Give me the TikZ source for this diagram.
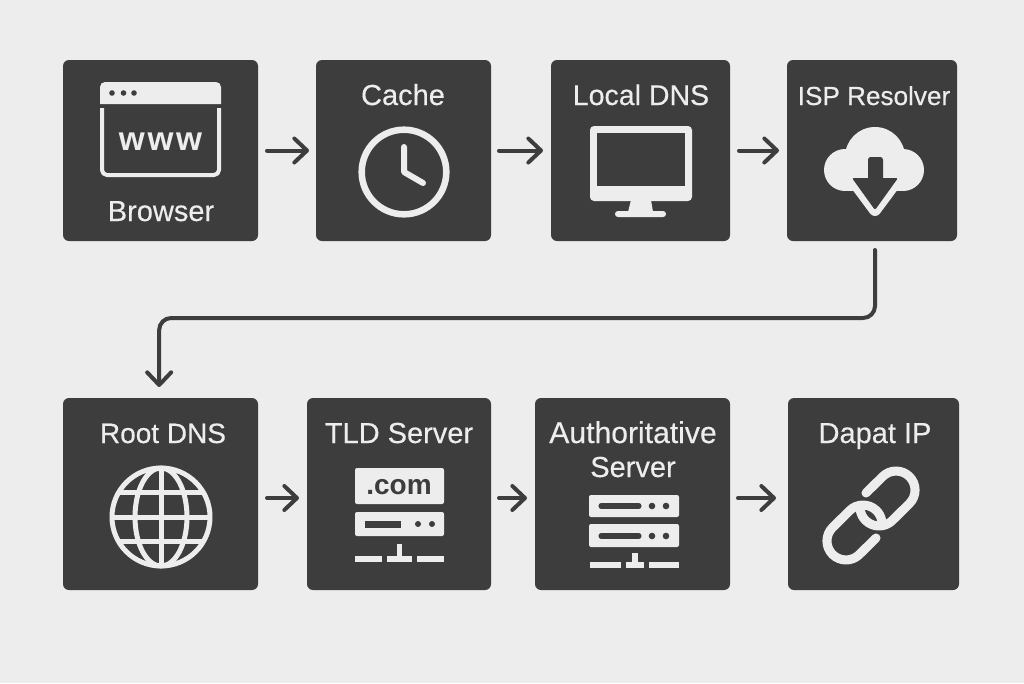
\documentclass[tikz,border=0pt]{standalone}
\usepackage{fontspec}
\setmainfont{Liberation Sans}[FakeBold=0.35]
\newfontfamily\boldface{Liberation Sans Bold}
\newfontfamily\spacedbold{Liberation Sans Bold}[LetterSpace=8]
\usetikzlibrary{arrows.meta}
\definecolor{bgc}{HTML}{EDEDED}
\definecolor{boxc}{HTML}{3D3D3D}
\definecolor{iconc}{HTML}{EDEDED}
\tikzset{
  boxnode/.style={rectangle,fill=boxc,rounded corners=4.5pt,inner sep=0pt,outer sep=0pt},
  lab/.style={anchor=base,text=iconc,inner sep=0pt,align=center,font=\fontsize{21.75}{26}\selectfont},
  flow/.style={draw=boxc,line width=3pt,line cap=round,line join=round,-{Straight Barb[length=9.5pt,width=18pt,round]}},
  icon/.style={draw=iconc,line cap=round,line join=round}
}
\begin{document}
\begin{tikzpicture}[x=0.75pt,y=-0.75pt]
\fill[bgc] (0,0) rectangle (1024,683);
\useasboundingbox (0,0) rectangle (1024,683);
% boxes
\node[boxnode,minimum width=146.25pt,minimum height=135.75pt] (browser) at (160.5,150.5) {};
\node[boxnode,minimum width=131.25pt,minimum height=135.75pt] (cache) at (403.5,150.5) {};
\node[boxnode,minimum width=134.25pt,minimum height=135.75pt] (local) at (640.5,150.5) {};
\node[boxnode,minimum width=127.5pt,minimum height=135.75pt] (isp) at (872,150.5) {};
\node[boxnode,minimum width=146.25pt,minimum height=144pt] (root) at (160.5,494) {};
\node[boxnode,minimum width=138pt,minimum height=144pt] (tld) at (399,494) {};
\node[boxnode,minimum width=146.25pt,minimum height=144pt] (auth) at (632.5,494) {};
\node[boxnode,minimum width=128.25pt,minimum height=144pt] (dapat) at (873.5,494) {};
% labels
\node[lab] (lbrowser) at (161,221) {Browser};
\node[lab] (lcache) at (403,105) {Cache};
\node[lab,font=\fontsize{21.4}{26}\selectfont] (llocal) at (641,105) {Local DNS};
\node[lab,font=\fontsize{19.6}{26}\selectfont] (lisp) at (874,105) {ISP Resolver};
\node[lab,font=\fontsize{21}{26}\selectfont] (lroot) at (163,443) {Root DNS};
\node[lab] (ltld) at (399,443) {TLD Server};
\node[lab] (ldapat) at (875,443) {Dapat IP};
\node[lab,font=\fontsize{22.6}{26}\selectfont] (lauth) at (633,443) {Authoritative};
\node[lab] (lauthb) at (633,477) {Server};
% browser icon
\fill[iconc] (100,104) -- (100,87) arc[start angle=180,end angle=270,radius=5] -- (216,82) arc[start angle=270,end angle=360,radius=5] -- (221,104) -- cycle;
\draw[icon,line width=3pt,line cap=butt] (102,108) -- (102,170) arc[start angle=180,end angle=90,radius=5] -- (214,175) arc[start angle=90,end angle=0,radius=5] -- (219,108);
\foreach \xx in {112,123.5,134} \fill[boxc] (\xx,93) circle[radius=2.8];
\node[lab,font=\fontsize{25}{30}\spacedbold] (www) at (160.5,150) {www};
% clock
\draw[icon,line width=4.9pt] (404,172) circle[radius=42.3];
\draw[icon,line width=4.5pt] (404,147) -- (404,172) -- (423,183);
% monitor
\fill[iconc,rounded corners=3pt] (590,126) rectangle (692,201);
\fill[boxc] (597,133) rectangle (685,186);
\fill[iconc] (631,200) -- (651,200) -- (653,212) -- (628,212) -- cycle;
\fill[iconc,rounded corners=2.2pt] (615,211) rectangle (666,217);
% cloud
\fill[iconc] (875,157) circle[radius=30];
\fill[iconc] (845,170) circle[radius=21];
\fill[iconc] (903,170) circle[radius=21];
\fill[iconc] (845,160) rectangle (903,191);
\draw[icon,fill=iconc,line width=9pt] (852,179) -- (898,179) -- (875,210) -- cycle;
\fill[boxc,rounded corners=1.5pt] (852,178) -- (898,178) -- (875,210) -- cycle;
\fill[boxc,rounded corners=2pt] (868,157) rectangle (883,185);
% globe
\draw[icon,line width=3.75pt] (161,517) circle[radius=49];
\draw[icon,line width=3.75pt] (161,517) ellipse[x radius=26,y radius=49];
\draw[icon,line width=3.75pt,line cap=butt] (161,468) -- (161,566);
\draw[icon,line width=3.75pt,line cap=butt] (112,517) -- (210,517);
\draw[icon,line width=3.75pt,line cap=butt] (119,492.5) -- (203,492.5);
\draw[icon,line width=3.75pt,line cap=butt] (119,541.5) -- (203,541.5);
% tld icon
\fill[iconc,rounded corners=1.5pt] (355,468) rectangle (444,504);
\node[lab,text=boxc,font=\fontsize{21}{24}\boldface] (com) at (399,494) {.com};
\fill[iconc,rounded corners=1.5pt] (355,512) rectangle (444,536);
\fill[boxc] (365,521) rectangle (401,528);
\fill[boxc] (418,524) circle[radius=3];
\fill[boxc] (432,524) circle[radius=3];
\fill[iconc] (355,556) rectangle (382,562);
\fill[iconc] (387,556) rectangle (412,562);
\fill[iconc] (417,556) rectangle (444,562);
\fill[iconc] (397,544) rectangle (402,556);
% auth icon
\fill[iconc,rounded corners=1.5pt] (589,495) rectangle (679,517);
\fill[iconc,rounded corners=1.5pt] (589,524) rectangle (679,547);
\draw[boxc,line width=3.8pt,line cap=round] (601,506) -- (639,506);
\draw[boxc,line width=3.8pt,line cap=round] (601,536) -- (639,536);
\foreach \yy in {506,536}{
  \fill[boxc] (652,\yy) circle[radius=3.3];
  \fill[boxc] (666,\yy) circle[radius=3.3];
}
\fill[iconc] (590,562) rectangle (621,568);
\fill[iconc] (626,562) rectangle (644,568);
\fill[iconc] (649,562) rectangle (679,568);
\fill[iconc] (632,553) rectangle (638,562);
% chain
\draw[icon,line width=6.8pt] (866,493) -- (882.6,476.6) arc[start angle=225,end angle=405,radius=19] -- (892.4,520.4) arc[start angle=45,end angle=170,radius=19];
\draw[icon,line width=6.8pt] (876,538) -- (859.4,554.4) arc[start angle=45,end angle=225,radius=19] -- (849.6,510.6) arc[start angle=225,end angle=350,radius=19];
% connectors
\draw[flow,shorten <=6.75pt,shorten >=5.25pt] (browser) -- (cache);
\draw[flow,shorten <=6pt,shorten >=6pt] (cache) -- (local);
\draw[flow,shorten <=6.75pt,shorten >=6pt] (local) -- (isp);
\draw[flow,shorten <=6.75pt,shorten >=6pt] ([yshift=-3pt]root.east) -- ([yshift=-3pt]tld.west);
\draw[flow,shorten <=6pt,shorten >=6pt] ([yshift=-3pt]tld.east) -- ([yshift=-3pt]auth.west);
\draw[flow,shorten <=6pt,shorten >=9pt] ([yshift=-3pt]auth.east) -- ([yshift=-3pt]dapat.west);
\coordinate (bend) at (0,318);
\draw[flow,rounded corners=9pt,shorten <=6.75pt,shorten >=8.25pt] ([xshift=2.25pt]isp.south) -- ([xshift=2.25pt]isp.south |- bend) -- ([xshift=-1pt]root.north |- bend) -- ([xshift=-1pt]root.north);
\end{tikzpicture}
\end{document}
